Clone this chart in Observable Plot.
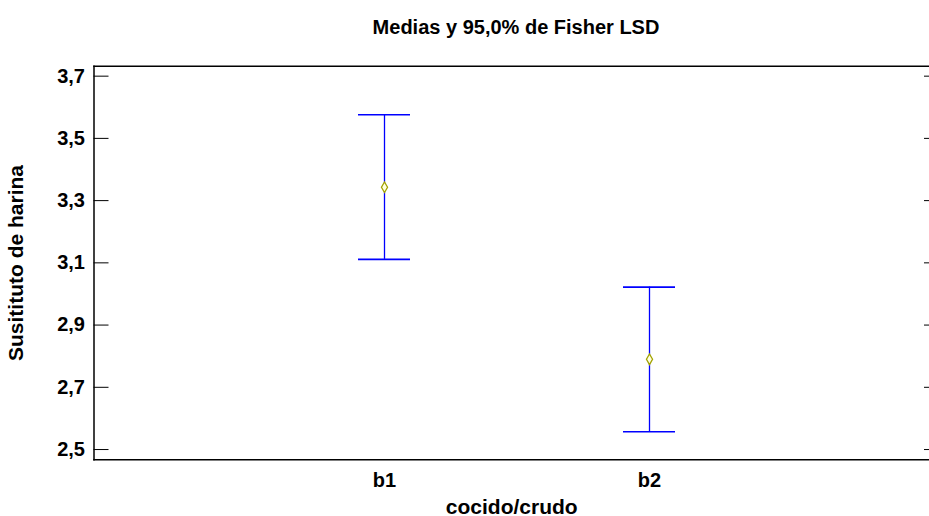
<!DOCTYPE html>
<html>
<head>
<meta charset="utf-8">
<script src="https://cdn.jsdelivr.net/npm/d3@7"></script>
<script src="https://cdn.jsdelivr.net/npm/@observablehq/plot@0.6"></script>
<style>
  html, body { margin: 0; padding: 0; background: #fff; overflow: hidden; }
  #title { height: 46px; box-sizing: border-box; padding-top: 16px; padding-left: 103px;
    font: bold 20px "Liberation Sans", Arial, sans-serif; text-align: center; line-height: 22px; color: #000; }
</style>
</head>
<body>
<div id="title">Medias y 95,0% de Fisher LSD</div>
<div id="chart"></div>
<script>
const groups = ["b1", "b2"];
const means = [3.343, 2.790];
const lower = [3.111, 2.557];
const upper = [3.576, 3.022];
const yTicks = [2.5, 2.7, 2.9, 3.1, 3.3, 3.5, 3.7];

const data = groups.map((g, i) => ({group: g, mean: means[i], lo: lower[i], hi: upper[i]}));
const fmt = d => d.toFixed(1).replace(".", ",");
const font = "Liberation Sans, Arial, sans-serif";

const chart = Plot.plot({
  width: 929,
  height: 470,
  marginTop: 19.7,
  marginBottom: 56.7,
  marginLeft: 93.5,
  marginRight: 0,
  style: {fontFamily: font, fontWeight: "bold", fontSize: "20px", color: "#000", background: "#fff"},
  x: {type: "band", domain: groups, paddingInner: 0.8045, paddingOuter: 0.973, align: 0.509},
  y: {domain: [2.467, 3.732]},
  marks: [
    Plot.frame({anchor: "top", stroke: "#000", strokeWidth: 1.5}),
    Plot.frame({anchor: "bottom", stroke: "#000", strokeWidth: 1.5}),
    Plot.frame({anchor: "left", stroke: "#000", strokeWidth: 1.5}),
    Plot.axisY(yTicks, {anchor: "left", tickSize: 0, tickPadding: 9, tickFormat: fmt, fontSize: 20, label: null}),
    Plot.axisY(yTicks, {anchor: "left", tickSize: -15, tickFormat: () => "", fontSize: 21,
      label: "Susitituto de harina", labelAnchor: "center", labelArrow: "none", labelOffset: 86, stroke: "#000"}),
    Plot.axisY(yTicks, {anchor: "right", tickSize: -6, tickFormat: () => "", label: null, stroke: "#000"}),
    Plot.axisX({anchor: "bottom", tickSize: 0, tickPadding: 13, label: null}),
    Plot.axisX({anchor: "bottom", tickSize: 0, tickFormat: () => "", fontSize: 21,
      label: "cocido/crudo", labelAnchor: "center", labelArrow: "none"}),
    Plot.ruleX(data, {x: "group", y1: "lo", y2: "hi", stroke: "#0000ff", strokeWidth: 1.3}),
    Plot.tickY(data, {x: "group", y: "hi", stroke: "#0000ff", strokeWidth: 1.6}),
    Plot.tickY(data, {x: "group", y: "lo", stroke: "#0000ff", strokeWidth: 1.6}),
    Plot.dot(data, {x: "group", y: "mean", symbol: "diamond", r: 3.2, stroke: "#a3a300", fill: "#ffffe0", strokeWidth: 1.3})
  ]
});
document.getElementById("chart").appendChild(chart);
</script>
</body>
</html>
